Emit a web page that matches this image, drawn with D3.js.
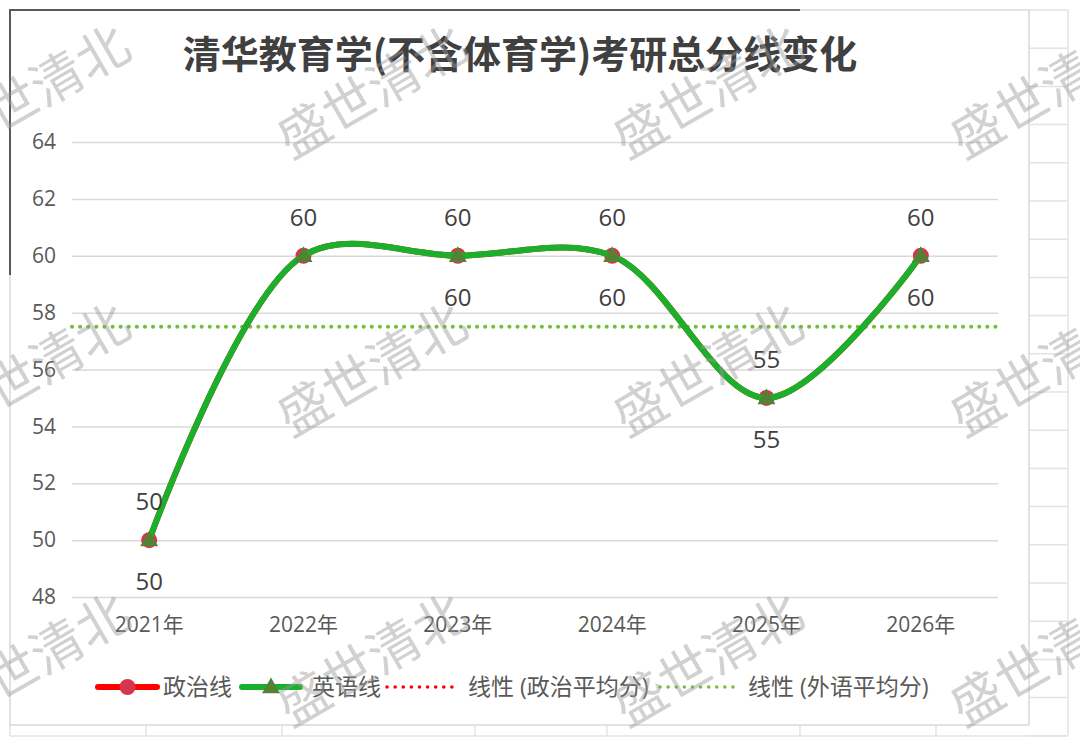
<!DOCTYPE html>
<html>
<head>
<meta charset="utf-8">
<script src="https://cdn.jsdelivr.net/npm/d3@7"></script>
<style>
  body { margin: 0; background: #fff; }
  text { font-family: "Open Sans", "Noto Sans CJK SC", sans-serif; }
</style>
</head>
<body>
<script>
const years = ["2021年", "2022年", "2023年", "2024年", "2025年", "2026年"]; // categories
const politics = [50, 60, 60, 60, 55, 60]; // 政治线
const english = [50, 60, 60, 60, 55, 60]; // 英语线
const politicsLabels = [50, 60, 60, 60, 55, 60]; // labels above the points
const englishLabels = [50, null, 60, 60, 55, 60]; // labels below the points (2022 has none)
const yTicks = [48, 50, 52, 54, 56, 58, 60, 62, 64];
const legendNames = ["政治线", "英语线", "线性 (政治平均分)", "线性 (外语平均分)"];

const width = 1080, height = 746;
const plot = { left: 72, right: 998, top: 142, bottom: 597 }; // plot area

const svg = d3.select("body").append("svg")
  .attr("width", width)
  .attr("height", height);

// spreadsheet cells behind the chart
const grid = svg.append("g").attr("stroke", "#e3e3e3").attr("stroke-width", 1.5).attr("fill", "none");
d3.range(10, 740, 38.2).forEach(function(y) { // row lines at the right
  grid.append("line").attr("x1", 1029).attr("x2", 1068).attr("y1", y).attr("y2", y);
});
grid.append("line").attr("x1", 1068).attr("x2", 1068).attr("y1", 10).attr("y2", 735);
grid.append("line").attr("x1", 10).attr("x2", 1068).attr("y1", 736).attr("y2", 736);
grid.append("line").attr("x1", 10).attr("x2", 10).attr("y1", 724).attr("y2", 736);
[146, 282, 475, 607, 800, 936].forEach(function(x) {
  grid.append("line").attr("x1", x).attr("x2", x).attr("y1", 726).attr("y2", 736);
});

// chart frame
svg.append("rect").attr("x", 10).attr("y", 10).attr("width", 1019).attr("height", 715)
  .attr("fill", "#fff").attr("stroke", "#d9d9d9").attr("stroke-width", 1.5);
svg.append("path").attr("d", "M10,275 V10 H800")
  .attr("fill", "none").attr("stroke", "#595959").attr("stroke-width", 2);

// title
svg.append("text")
  .attr("x", 520).attr("y", 68)
  .attr("text-anchor", "middle")
  .attr("font-size", 38).attr("font-weight", "bold")
  .attr("fill", "#404040")
  .style("font-family", "'Noto Sans CJK SC', sans-serif")
  .text("清华教育学(不含体育学)考研总分线变化");

const xScale = d3.scaleBand().domain(years).range([plot.left, plot.right]);
const yScale = d3.scaleLinear().domain([48, 64]).range([plot.bottom, plot.top]);
const cx = function(i) { return xScale(years[i]) + xScale.bandwidth() / 2; };

// y axis (labels + gridlines)
const yAxis = d3.axisLeft(yScale).tickValues(yTicks).tickSize(-(plot.right - plot.left)).tickPadding(16);
const yg = svg.append("g").attr("transform", "translate(" + plot.left + ",0)").call(yAxis);
yg.select(".domain").remove();
yg.selectAll(".tick line").attr("stroke", "#d9d9d9").attr("stroke-width", 1.5);
yg.selectAll(".tick text").attr("font-size", 21).attr("fill", "#595959")
  .style("font-family", "'Open Sans', sans-serif");

// x axis labels
const xAxis = d3.axisBottom(xScale).tickSize(0).tickPadding(20);
const xg = svg.append("g").attr("transform", "translate(0," + plot.bottom + ")").call(xAxis);
xg.select(".domain").remove();
xg.selectAll(".tick text").attr("font-size", 21).attr("fill", "#595959");

// trend lines (flat, mean of each series)
const trend = [
  { value: d3.mean(politics), color: "#ff0000", w: 2.5 },
  { value: d3.mean(english), color: "#72bf3a", w: 4 }
];
svg.selectAll(".trend").data(trend).enter().append("line")
  .attr("class", "trend")
  .attr("x1", plot.left).attr("x2", plot.right)
  .attr("y1", function(d) { return yScale(d.value); })
  .attr("y2", function(d) { return yScale(d.value); })
  .attr("stroke", function(d) { return d.color; })
  .attr("stroke-width", function(d) { return d.w; })
  .attr("stroke-linecap", "round")
  .attr("stroke-dasharray", "0.1 8");

const line = d3.line()
  .x(function(d, i) { return cx(i); })
  .y(function(d) { return yScale(d); })
  .curve(d3.curveCatmullRom.alpha(0.5));

// 政治线
svg.append("path").datum(politics).attr("d", line)
  .attr("fill", "none").attr("stroke", "#ff0000").attr("stroke-width", 6);
svg.selectAll(".pt-pol").data(politics).enter().append("circle")
  .attr("class", "pt-pol")
  .attr("cx", function(d, i) { return cx(i); })
  .attr("cy", function(d) { return yScale(d); })
  .attr("r", 8).attr("fill", "#d5364b");

// 英语线
svg.append("path").datum(english).attr("d", line)
  .attr("fill", "none").attr("stroke", "#19b12b").attr("stroke-width", 6);
const tri = d3.symbol().type(d3.symbolTriangle).size(140);
svg.selectAll(".pt-eng").data(english).enter().append("path")
  .attr("class", "pt-eng")
  .attr("d", tri)
  .attr("transform", function(d, i) { return "translate(" + cx(i) + "," + (yScale(d) + 1) + ")"; })
  .attr("fill", "#548235");

// data labels
svg.selectAll(".lab-pol").data(politicsLabels).enter().append("text")
  .attr("class", "lab-pol")
  .attr("x", function(d, i) { return cx(i); })
  .attr("y", function(d, i) { return yScale(politics[i]) - 30; })
  .attr("text-anchor", "middle").attr("font-size", 24).attr("fill", "#404040")
  .text(function(d) { return d; });
svg.selectAll(".lab-eng").data(englishLabels).enter().append("text")
  .attr("class", "lab-eng")
  .attr("x", function(d, i) { return cx(i); })
  .attr("y", function(d, i) { return yScale(english[i]) + 50; })
  .attr("text-anchor", "middle").attr("font-size", 24).attr("fill", "#404040")
  .text(function(d) { return d == null ? "" : d; });

// legend
const legend = svg.append("g").attr("transform", "translate(0,687)");
const legendKeys = [
  { x: 98, w: 59, color: "#ff0000", dash: null, marker: "circle" },
  { x: 242, w: 58, color: "#19b12b", dash: null, marker: "triangle" },
  { x: 387, w: 70, color: "#ff0000", dash: "0.1 8", marker: null },
  { x: 660, w: 73, color: "#72bf3a", dash: "0.1 8", marker: null }
];
const legendTextX = [163, 312, 468, 748];
legendNames.forEach(function(name, i) {
  const k = legendKeys[i];
  legend.append("line")
    .attr("x1", k.x).attr("x2", k.x + k.w).attr("y1", 0).attr("y2", 0)
    .attr("stroke", k.color)
    .attr("stroke-width", k.dash ? 3.5 : 6)
    .attr("stroke-linecap", "round")
    .attr("stroke-dasharray", k.dash);
  if (k.marker === "circle") {
    legend.append("circle").attr("cx", k.x + k.w / 2).attr("cy", 0).attr("r", 8).attr("fill", "#d5364b");
  } else if (k.marker === "triangle") {
    legend.append("path").attr("d", tri).attr("transform", "translate(" + (k.x + k.w / 2) + ",1)").attr("fill", "#548235");
  }
  legend.append("text")
    .attr("x", legendTextX[i]).attr("y", 8)
    .attr("font-size", 23).attr("fill", "#595959")
    .text(name);
});

// watermarks
const wm = svg.append("g").attr("fill", "#9a9a9a").attr("fill-opacity", 0.45)
  .style("font-family", "'Noto Sans CJK SC', sans-serif");
[35, 372, 708, 1045].forEach(function(x) {
  [92, 370, 660].forEach(function(y) {
    wm.append("text")
      .attr("transform", "translate(" + x + "," + y + ") rotate(-30)")
      .attr("text-anchor", "middle").attr("dy", "0.35em")
      .attr("font-size", 52)
      .text("盛世清北");
  });
});
</script>
</body>
</html>
